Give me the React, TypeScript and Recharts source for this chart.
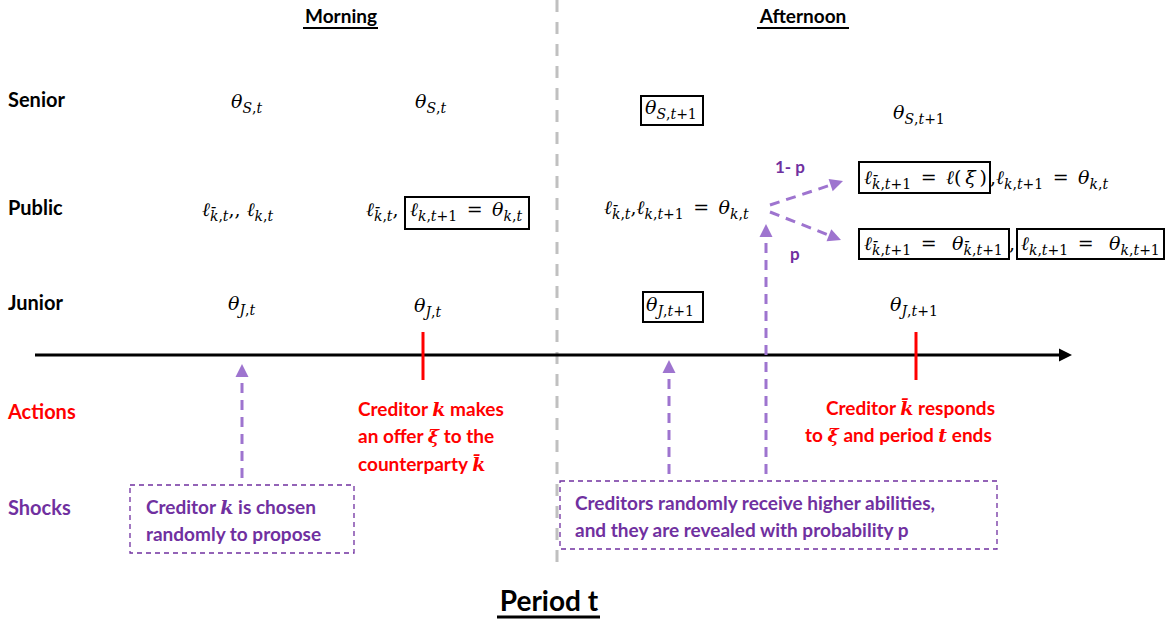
import React from "react";
import {
  ScatterChart,
  Scatter,
  XAxis,
  YAxis,
  ReferenceLine,
  ReferenceArea,
} from "recharts";

const W = 1172;
const H = 624;
const SANS = "Lato, 'Open Sans', sans-serif";
const MATH = "'DejaVu Serif', 'Liberation Serif', serif";
const RED = "#FF0000";
const PURPLE = "#7030A0";
const LILAC = "#9E74CF";
const GRAY = "#C0C0C0";

// section headers
const periods = [
  { x: 341, y: 23, label: "Morning", from: 303, to: 378 },
  { x: 803, y: 23, label: "Afternoon", from: 757, to: 849 },
];
const periodTitle = [{ x: 549, y: 611, label: "Period t", from: 497, to: 600 }];

// row names
const creditorRows = [
  { x: 8, y: 107, label: "Senior" },
  { x: 8, y: 215, label: "Public" },
  { x: 8, y: 310, label: "Junior" },
];
const eventRows = [
  { x: 8, y: 419, label: "Actions", color: RED },
  { x: 8, y: 515, label: "Shocks", color: PURPLE },
];

// states (x = left of the text, y = baseline)
const seniorStates = [
  { x: 231, y: 108, tex: "θ_{S,t}" },
  { x: 415, y: 108, tex: "θ_{S,t}" },
  { x: 645, y: 114, tex: "θ_{S,t+1}" },
  { x: 893, y: 119, tex: "θ_{S,t+1}" },
];
const publicStates = [
  { x: 202, y: 216, tex: "ℓ_{k̄,t},, ℓ_{k,t}" },
  { x: 366, y: 216, tex: "ℓ_{k̄,t}," },
  { x: 410, y: 216, tex: "ℓ_{k,t+1} = θ_{k,t}" },
  { x: 604, y: 214, tex: "ℓ_{k̄,t},ℓ_{k,t+1} = θ_{k,t}" },
  { x: 864, y: 184, tex: "ℓ_{k̄,t+1} = ℓ(\u2009ξ\u2009)" },
  { x: 990, y: 184, tex: ",ℓ_{k,t+1} = θ_{k,t}" },
  { x: 864, y: 250, tex: "ℓ_{k̄,t+1} =  θ_{k̄,t+1}" },
  { x: 1009, y: 250, tex: "," },
  { x: 1021, y: 250, tex: "ℓ_{k,t+1} =  θ_{k,t+1}" },
];
const juniorStates = [
  { x: 228, y: 310, tex: "θ_{J,t}" },
  { x: 414, y: 312, tex: "θ_{J,t}" },
  { x: 646, y: 311, tex: "θ_{J,t+1}" },
  { x: 890, y: 311, tex: "θ_{J,t+1}" },
];
const boxedStates = [
  { x1: 641, x2: 703, y1: 96, y2: 125 },
  { x1: 405, x2: 529, y1: 197, y2: 229 },
  { x1: 859, x2: 990, y1: 162, y2: 193 },
  { x1: 859, x2: 1009, y1: 229, y2: 259 },
  { x1: 1017, x2: 1164, y1: 229, y2: 259 },
  { x1: 643, x2: 703, y1: 292, y2: 322 },
];

// time line
const timeline = { start: 35, end: 1072, y: 355 };
const middayX = 557;
const decisionTimes = [423, 916];

// actions (red) and shocks (purple)
const actionLines = [
  { x: 358, y: 416, label: "Creditor *k* makes" },
  { x: 358, y: 443, label: "an offer *ξ* to the" },
  { x: 358, y: 471, label: "counterparty *k̄*" },
  { x: 826, y: 415, label: "Creditor *k̄* responds" },
  { x: 805, y: 442, label: "to *ξ* and period *t* ends" },
];
const shockBoxes = [
  { x1: 130, x2: 354, y1: 485, y2: 553 },
  { x1: 560, x2: 997, y1: 481, y2: 549 },
];
const shockLines = [
  { x: 146, y: 514, label: "Creditor *k* is chosen" },
  { x: 146, y: 541, label: "randomly to propose" },
  { x: 575, y: 510, label: "Creditors randomly receive higher abilities," },
  { x: 575, y: 537, label: "and they are revealed with probability p" },
];
const shockArrows = [
  { from: { x: 242, y: 478 }, to: { x: 242, y: 364 } },
  { from: { x: 669, y: 474 }, to: { x: 669, y: 360 } },
  { from: { x: 766, y: 474 }, to: { x: 766, y: 224 } },
];
const branches = [
  { from: { x: 770, y: 205 }, to: { x: 843, y: 181 } },
  { from: { x: 770, y: 212 }, to: { x: 841, y: 240 } },
];
const branchLabels = [
  { x: 775, y: 173, label: "1- p" },
  { x: 790, y: 260, label: "p" },
];

type Pt = { x: number; y: number };
const angleOf = (a: Pt, b: Pt) => (Math.atan2(b.y - a.y, b.x - a.x) * 180) / Math.PI;
const shorten = (a: Pt, b: Pt, d: number): Pt => {
  const len = Math.hypot(b.x - a.x, b.y - a.y);
  return { x: b.x - ((b.x - a.x) / len) * d, y: b.y - ((b.y - a.y) / len) * d };
};

const lilacArrows = [...shockArrows, ...branches];
const arrowHeads = [
  { ...{ x: timeline.end, y: timeline.y }, angle: 0, color: "#000" },
  ...lilacArrows.map((a) => ({ x: a.to.x, y: a.to.y, angle: angleOf(a.from, a.to), color: LILAC })),
];

// --- tiny math renderer: "_{...}" is a subscript, letters are italic
function parseMath(src: string) {
  const runs: { text: string; sub: boolean }[] = [];
  let buf = "";
  let i = 0;
  while (i < src.length) {
    if (src[i] === "_" && src[i + 1] === "{") {
      if (buf) runs.push({ text: buf, sub: false });
      buf = "";
      const end = src.indexOf("}", i);
      runs.push({ text: src.slice(i + 2, end), sub: true });
      i = end + 1;
    } else {
      buf += src[i];
      i++;
    }
  }
  if (buf) runs.push({ text: buf, sub: false });
  return runs;
}
const LETTERS = /([A-Za-zθℓξ\u0304]+)/;

const MathShape = (props: any) => {
  const { cx, cy, payload } = props;
  const pieces: React.ReactNode[] = [];
  let shift = 0;
  // math spacing round the relation sign
  const tex = payload.tex.replace(/ = /g, "\u2002=\u2002");
  parseMath(tex).forEach((run, r) => {
    run.text
      .split(LETTERS)
      .filter(Boolean)
      .forEach((part, j) => {
        const target = run.sub ? 5 : 0;
        pieces.push(
          <tspan
            key={`${r}-${j}`}
            dy={target - shift}
            fontSize={run.sub ? 14 : 19}
            fontStyle={LETTERS.test(part) ? "italic" : "normal"}
          >
            {part}
          </tspan>
        );
        shift = target;
      });
  });
  return (
    <text x={cx} y={cy} fontFamily={MATH} fill="#000" style={{ whiteSpace: "pre" }}>
      {pieces}
    </text>
  );
};

const richShape = (color: string, size = 19) => (props: any) => {
  const { cx, cy, payload } = props;
  const parts: string[] = payload.label.split("*");
  return (
    <text
      x={cx}
      y={cy}
      fill={color}
      fontFamily={SANS}
      fontWeight={700}
      fontSize={size}
      style={{ whiteSpace: "pre" }}
    >
      {parts.map((p, i) =>
        i % 2 ? (
          <tspan key={i} fontFamily={MATH} fontStyle="italic" fontSize={size}>
            {p}
          </tspan>
        ) : (
          <tspan key={i}>{p}</tspan>
        )
      )}
    </text>
  );
};

const labelShape = (size: number, anchor: "start" | "middle") => (props: any) => {
  const { cx, cy, payload } = props;
  return (
    <text
      x={cx}
      y={cy}
      fill={payload.color || "#000"}
      fontFamily={SANS}
      fontWeight={700}
      fontSize={size}
      textAnchor={anchor}
    >
      {payload.label}
    </text>
  );
};

const branchShape = (props: any) => {
  const { cx, cy, payload } = props;
  return (
    <text x={cx} y={cy} fill={PURPLE} fontFamily={SANS} fontWeight={700} fontSize={17} style={{ whiteSpace: "pre" }}>
      {payload.label}
    </text>
  );
};

const ArrowHead = (props: any) => {
  const { cx, cy, payload } = props;
  return (
    <polygon
      points="0,0 -13,-6.5 -13,6.5"
      fill={payload.color}
      transform={`translate(${cx},${cy}) rotate(${payload.angle})`}
    />
  );
};

export default function App() {
  return (
    <div style={{ position: "absolute", left: 0, top: 0, width: W, height: H, background: "#fff" }}>
      <ScatterChart width={W} height={H} margin={{ top: 0, right: 0, bottom: 0, left: 0 }}>
        <XAxis type="number" dataKey="x" domain={[0, W]} hide allowDataOverflow />
        <YAxis type="number" dataKey="y" domain={[0, H]} reversed hide allowDataOverflow />

        {/* morning / afternoon divider */}
        <ReferenceLine
          segment={[{ x: middayX, y: 0 }, { x: middayX, y: 566 }]}
          stroke={GRAY}
          strokeWidth={3}
          strokeDasharray="12 10"
        />

        {/* header underlines */}
        {[...periods, ...periodTitle].map((p, i) => (
          <ReferenceLine
            key={`u${i}`}
            segment={[{ x: p.from, y: p.y + (i === 2 ? 6 : 5) }, { x: p.to, y: p.y + (i === 2 ? 6 : 5) }]}
            stroke="#000"
            strokeWidth={i === 2 ? 3 : 2}
          />
        ))}

        {/* boxed states */}
        {boxedStates.map((b, i) => (
          <ReferenceArea key={`b${i}`} {...b} fill="#fff" fillOpacity={0} stroke="#000" strokeWidth={2} />
        ))}
        {shockBoxes.map((b, i) => (
          <ReferenceArea
            key={`s${i}`}
            {...b}
            fill="#fff"
            fillOpacity={0}
            stroke={PURPLE}
            strokeWidth={1.3}
            strokeDasharray="5 4"
          />
        ))}

        {/* time line */}
        <ReferenceLine
          segment={[{ x: timeline.start, y: timeline.y }, { x: timeline.end - 10, y: timeline.y }]}
          stroke="#000"
          strokeWidth={3}
        />
        {decisionTimes.map((t) => (
          <ReferenceLine
            key={`d${t}`}
            segment={[{ x: t, y: timeline.y - 23 }, { x: t, y: timeline.y + 25 }]}
            stroke={RED}
            strokeWidth={3}
          />
        ))}

        {/* dashed lilac arrows */}
        {lilacArrows.map((a, i) => (
          <ReferenceLine
            key={`a${i}`}
            segment={[a.from, shorten(a.from, a.to, 10)]}
            stroke={LILAC}
            strokeWidth={3}
            strokeDasharray="10 7"
          />
        ))}
        <Scatter data={arrowHeads} shape={ArrowHead} isAnimationActive={false} />

        <Scatter data={periods} shape={labelShape(19, "middle")} isAnimationActive={false} />
        <Scatter data={periodTitle} shape={labelShape(28, "middle")} isAnimationActive={false} />
        <Scatter data={creditorRows} shape={labelShape(20, "start")} isAnimationActive={false} />
        <Scatter data={eventRows} shape={labelShape(20, "start")} isAnimationActive={false} />

        <Scatter data={seniorStates} shape={MathShape} isAnimationActive={false} />
        <Scatter data={publicStates} shape={MathShape} isAnimationActive={false} />
        <Scatter data={juniorStates} shape={MathShape} isAnimationActive={false} />

        <Scatter data={actionLines} shape={richShape(RED)} isAnimationActive={false} />
        <Scatter data={shockLines} shape={richShape(PURPLE)} isAnimationActive={false} />
        <Scatter data={branchLabels} shape={branchShape} isAnimationActive={false} />
      </ScatterChart>
    </div>
  );
}
